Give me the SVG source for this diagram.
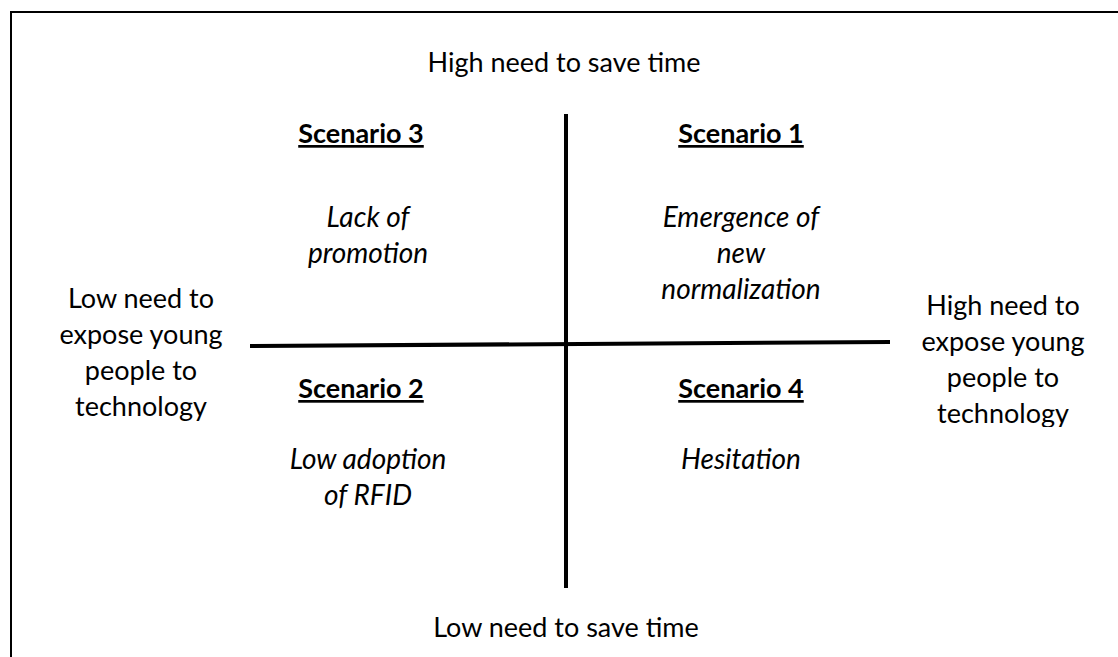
<svg xmlns="http://www.w3.org/2000/svg" width="1118" height="657" viewBox="0 0 1118 657">
  <style>
    text { font-family: Lato, "Open Sans", "Liberation Sans", sans-serif; fill: #000; text-anchor: middle; }
    .axis { font-size: 27px; }
    .title { font-size: 27px; font-weight: bold; text-decoration: underline; }
    .desc { font-size: 28px; font-style: italic; }
    .frame { fill: none; stroke: #000; stroke-width: 2; }
    .divider { stroke: #000; stroke-width: 4; fill: none; }
  </style>
  <defs>
    <clipPath id="pageClip">
      <rect x="0" y="0" width="1118" height="427"/>
    </clipPath>
  </defs>

  <!-- page frame (top and left edges only) -->
  <path class="frame" d="M11 657 V12 H1118"/>

  <!-- quadrant axes -->
  <g id="connectors">
    <line class="divider" x1="250" y1="346" x2="890" y2="342"/>
    <line class="divider" x1="566" y1="114" x2="566" y2="588"/>
  </g>

  <!-- axis labels -->
  <g id="axis-top">
    <text class="axis" x="564" y="72">High need to save time</text>
  </g>
  <g id="axis-bottom">
    <text class="axis" x="566" y="637">Low need to save time</text>
  </g>
  <g id="axis-left">
    <text class="axis" x="141" y="308">Low need to</text>
    <text class="axis" x="141" y="344">expose young</text>
    <text class="axis" x="141" y="380">people to</text>
    <text class="axis" x="141" y="416">technology</text>
  </g>
  <g id="axis-right" clip-path="url(#pageClip)">
    <text class="axis" x="1003" y="315">High need to</text>
    <text class="axis" x="1003" y="351">expose young</text>
    <text class="axis" x="1003" y="387">people to</text>
    <text class="axis" x="1003" y="423">technology</text>
  </g>

  <!-- quadrants -->
  <g id="scenario-3">
    <text class="title" x="361" y="143">Scenario 3</text>
    <text class="desc" x="368" y="227">Lack of</text>
    <text class="desc" x="368" y="263">promotion</text>
  </g>
  <g id="scenario-1">
    <text class="title" x="741" y="143">Scenario 1</text>
    <text class="desc" x="741" y="227">Emergence of</text>
    <text class="desc" x="741" y="263">new</text>
    <text class="desc" x="741" y="299">normalization</text>
  </g>
  <g id="scenario-2">
    <text class="title" x="361" y="398">Scenario 2</text>
    <text class="desc" x="368" y="469">Low adoption</text>
    <text class="desc" x="368" y="505">of RFID</text>
  </g>
  <g id="scenario-4">
    <text class="title" x="741" y="398">Scenario 4</text>
    <text class="desc" x="741" y="469">Hesitation</text>
  </g>
</svg>
